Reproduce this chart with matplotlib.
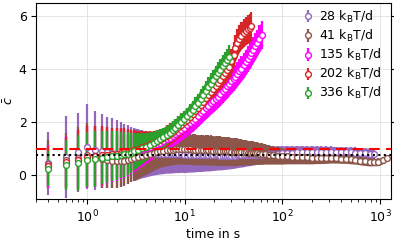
import matplotlib
matplotlib.use("Agg")
import matplotlib.pyplot as plt
import numpy as np

# shared time grid (s)
T = [0.4, 0.6, 0.8, 1.0, 1.2, 1.4, 1.6, 1.8, 2.0, 2.2, 2.4, 2.6, 2.8, 3.0, 3.3, 3.6,
     4.0, 4.4, 4.8, 5.2, 5.6, 6.0, 6.5, 7.0, 7.5, 8.0, 8.6, 9.2, 9.8, 10.5, 11.2, 12,
     12.8, 13.6, 14.5, 15.4, 16.4, 17.4, 18.4, 19.5, 20.6, 21.8, 23, 24.4, 25.8, 27.2, 28.6,
     30, 31.5, 33, 34.6, 36.2, 38, 40, 42, 44, 46, 48,
     50, 52.5, 55, 58, 61,
     66, 72, 80, 90, 100, 112, 125, 140, 160, 180, 200, 225, 250, 280, 315, 355, 400,
     450, 500, 560, 630, 700, 780, 870, 960, 1060, 1170]

labels = ["28 k$_\\mathrm{B}$T/d", "41 k$_\\mathrm{B}$T/d", "135 k$_\\mathrm{B}$T/d",
          "202 k$_\\mathrm{B}$T/d", "336 k$_\\mathrm{B}$T/d"]
colors = ["#9467bd", "#8c564b", "#ff00ff", "#d62728", "#2ca02c"]

c_28 = [0.45, 0.69, 0.86, 1.07, 0.94, 0.9, 0.86, 0.83, 0.8, 0.79,
        0.78, 0.78, 0.78, 0.79, 0.8, 0.8, 0.81, 0.82, 0.82, 0.82,
        0.82, 0.81, 0.81, 0.8, 0.8, 0.8, 0.79, 0.79, 0.78, 0.78,
        0.78, 0.77, 0.77, 0.77, 0.76, 0.76, 0.76, 0.75, 0.75, 0.75,
        0.75, 0.75, 0.74, 0.74, 0.74, 0.74, 0.74,
        0.74, 0.74, 0.74, 0.75, 0.75, 0.75, 0.75, 0.76, 0.76, 0.76, 0.77,
        0.77, 0.77, 0.78, 0.78, 0.78,
        0.79, 0.8, 0.81, 0.82, 0.83, 0.84, 0.85, 0.86, 0.87, 0.87,
        0.88, 0.88, 0.88, 0.88, 0.88, 0.88, 0.87, 0.87, 0.86, 0.85,
        0.84, 0.83, 0.82, 0.8]
e_28 = [1.2, 1.53, 1.5, 1.6, 1.48, 1.4, 1.35, 1.33, 1.3, 1.22,
        1.15, 1.1, 1.05, 1.0, 0.95, 0.9, 0.87, 0.84, 0.81, 0.79,
        0.77, 0.75, 0.73, 0.72, 0.71, 0.7, 0.69, 0.68, 0.68, 0.67,
        0.66, 0.65, 0.64, 0.63, 0.62, 0.61, 0.6, 0.59, 0.58, 0.57,
        0.56, 0.55, 0.54, 0.53, 0.52, 0.51, 0.5,
        0.49, 0.48, 0.47, 0.46, 0.45, 0.44, 0.43, 0.42, 0.41, 0.4, 0.39,
        0.38, 0.37, 0.36, 0.35, 0.34,
        0.33, 0.32, 0.3, 0.29, 0.28, 0.27, 0.26, 0.25, 0.24, 0.23,
        0.23, 0.22, 0.22, 0.21, 0.21, 0.2, 0.2, 0.2, 0.2, 0.2,
        0.2, 0.2, 0.2, 0.2]

c_41 = [0.42, 0.56, 0.66, 0.76, 0.72, 0.63, 0.58, 0.55, 0.53, 0.53,
        0.55, 0.58, 0.61, 0.64, 0.68, 0.72, 0.76, 0.8, 0.84, 0.87,
        0.9, 0.92, 0.94, 0.96, 0.97, 0.98, 0.99, 0.99, 0.99, 0.98,
        0.98, 0.97, 0.97, 0.96, 0.96, 0.95, 0.95, 0.94, 0.94, 0.93,
        0.93, 0.92, 0.92, 0.91, 0.91, 0.9, 0.9,
        0.89, 0.89, 0.88, 0.88, 0.87, 0.87, 0.86, 0.86, 0.85, 0.85, 0.84,
        0.84, 0.83, 0.83, 0.82, 0.81,
        0.8, 0.78, 0.76, 0.74, 0.72, 0.71, 0.7, 0.69, 0.68, 0.67,
        0.66, 0.66, 0.65, 0.65, 0.65, 0.64, 0.63, 0.62, 0.6, 0.58,
        0.55, 0.52, 0.5, 0.5, 0.5, 0.56, 0.65]
e_41 = [0.9, 1.05, 1.15, 1.2, 1.15, 1.1, 1.08, 1.05, 1.0, 0.97,
        0.95, 0.92, 0.88, 0.84, 0.8, 0.76, 0.72, 0.68, 0.65, 0.62,
        0.6, 0.59, 0.58, 0.58, 0.57, 0.57, 0.57, 0.57, 0.57, 0.57,
        0.57, 0.57, 0.57, 0.57, 0.57, 0.56, 0.56, 0.56, 0.56, 0.55,
        0.55, 0.55, 0.55, 0.54, 0.54, 0.54, 0.53,
        0.53, 0.52, 0.52, 0.51, 0.5, 0.49, 0.48, 0.47, 0.46, 0.45, 0.45,
        0.44, 0.43, 0.42, 0.41, 0.4,
        0.38, 0.36, 0.34, 0.32, 0.3, 0.28, 0.27, 0.26, 0.25, 0.24,
        0.23, 0.22, 0.21, 0.2, 0.19, 0.18, 0.18, 0.17, 0.17, 0.16,
        0.16, 0.15, 0.15, 0.14, 0.14, 0.13, 0.12]

c_135 = [0.33, 0.48, 0.58, 0.68, 0.7, 0.73, 0.75, 0.77, 0.79, 0.81,
         0.83, 0.85, 0.87, 0.9, 0.94, 0.98, 1.03, 1.08, 1.13, 1.18,
         1.23, 1.28, 1.35, 1.42, 1.49, 1.56, 1.64, 1.72, 1.8, 1.88,
         1.96, 2.05, 2.14, 2.23, 2.33, 2.43, 2.53, 2.62, 2.71, 2.8,
         2.88, 2.97, 3.06, 3.16, 3.26, 3.35, 3.45,
         3.54, 3.63, 3.72, 3.82, 3.92, 4.02, 4.14, 4.26, 4.38, 4.5, 4.61,
         4.72, 4.86, 4.99, 5.15, 5.3]
e_135 = [0.8, 1.0, 1.12, 1.18, 1.15, 1.12, 1.08, 1.03, 1.0, 0.96,
         0.92, 0.87, 0.82, 0.77, 0.7, 0.64, 0.58, 0.52, 0.48, 0.45,
         0.43, 0.42, 0.41, 0.4, 0.4, 0.4, 0.4, 0.4, 0.4, 0.4,
         0.4, 0.4, 0.4, 0.4, 0.4, 0.4, 0.41, 0.41, 0.41, 0.42,
         0.42, 0.42, 0.43, 0.43, 0.43, 0.44, 0.44,
         0.44, 0.45, 0.45, 0.45, 0.46, 0.46, 0.47, 0.47, 0.48, 0.48, 0.49,
         0.49, 0.5, 0.5, 0.51, 0.52]

c_202 = [0.35, 0.5, 0.59, 0.69, 0.72, 0.75, 0.78, 0.8, 0.82, 0.84,
         0.87, 0.89, 0.92, 0.95, 1.0, 1.05, 1.1, 1.16, 1.22, 1.28,
         1.34, 1.4, 1.48, 1.56, 1.64, 1.72, 1.82, 1.91, 2.0, 2.1,
         2.2, 2.32, 2.43, 2.54, 2.66, 2.78, 2.9, 3.02, 3.13, 3.25,
         3.37, 3.49, 3.6, 3.73, 3.86, 3.98, 4.1,
         4.3, 4.55, 4.8, 5.0, 5.15, 5.27, 5.36, 5.44, 5.5, 5.56, 5.62]
e_202 = [0.75, 0.95, 1.1, 1.15, 1.12, 1.1, 1.05, 1.0, 0.97, 0.93,
         0.9, 0.85, 0.8, 0.75, 0.68, 0.62, 0.56, 0.5, 0.46, 0.43,
         0.41, 0.4, 0.4, 0.4, 0.4, 0.4, 0.4, 0.4, 0.4, 0.4,
         0.4, 0.4, 0.4, 0.4, 0.4, 0.41, 0.41, 0.42, 0.42, 0.42,
         0.43, 0.43, 0.44, 0.44, 0.45, 0.45, 0.46,
         0.47, 0.48, 0.49, 0.5, 0.5, 0.51, 0.52, 0.52, 0.53, 0.54, 0.55]

c_336 = [0.25, 0.38, 0.46, 0.59, 0.62, 0.66, 0.69, 0.72, 0.74, 0.76,
         0.79, 0.82, 0.85, 0.9, 0.96, 1.02, 1.08, 1.15, 1.22, 1.29,
         1.36, 1.43, 1.52, 1.61, 1.7, 1.8, 1.91, 2.01, 2.11, 2.22,
         2.33, 2.47, 2.6, 2.73, 2.88, 3.02, 3.18, 3.32, 3.46, 3.6,
         3.73, 3.86, 3.98, 4.11, 4.23, 4.34, 4.45]
e_336 = [0.65, 0.95, 1.05, 1.05, 1.05, 1.0, 0.98, 0.95, 0.92, 0.88,
         0.85, 0.8, 0.75, 0.7, 0.64, 0.58, 0.52, 0.47, 0.43, 0.4,
         0.38, 0.36, 0.35, 0.34, 0.33, 0.33, 0.33, 0.33, 0.33, 0.33,
         0.34, 0.34, 0.35, 0.35, 0.36, 0.36, 0.37, 0.37, 0.38, 0.38,
         0.39, 0.4, 0.41, 0.42, 0.43, 0.44, 0.45]

series = [(c_28, e_28), (c_41, e_41), (c_135, e_135), (c_202, e_202), (c_336, e_336)]
ref_level = 1.0
mean_level = 0.78

fig = plt.figure(figsize=(3.94, 2.44), dpi=100)
ax = fig.add_axes([0.092, 0.184, 0.9, 0.804])

for (c, e), col, lab in zip(series, colors, labels):
    t = np.array(T[:len(c)])
    c = np.array(c)
    e = np.array(e)
    # bars merge into a band once the samples get dense on the log axis
    dense = t >= 3.0
    ax.fill_between(t[dense], (c - e)[dense], (c + e)[dense], color=col, lw=0, zorder=2)
    ax.errorbar(t, c, yerr=e, fmt="o", color=col, ecolor=col, elinewidth=1.6,
                capsize=0, ms=4.2, mfc="white", mew=1.0, label=lab)

ax.axhline(ref_level, color="red", ls=(0, (5, 3)), lw=1.5, zorder=3)
ax.axhline(mean_level, color="black", ls=":", lw=1.5, zorder=3)

ax.set_xscale("log")
ax.set_xlim(0.3, 1290)
ax.set_ylim(-0.9, 6.5)
ax.set_yticks([0, 2, 4, 6])
ax.tick_params(labelsize=9)
ax.tick_params(axis="y", right=True)
ax.grid(True, which="major", color="#e0e0e0", lw=0.6, zorder=0)
ax.set_axisbelow(True)
ax.set_xlabel("time in s", fontsize=9, labelpad=2)
ax.set_ylabel(r"$\bar{c}$", fontsize=9, labelpad=2)

ax.legend(loc="upper right", fontsize=9, frameon=False, handlelength=0.8,
          handletextpad=0.5, labelspacing=0.25, borderaxespad=0.2,
          bbox_to_anchor=(0.995, 1.01))

fig.savefig("out.png", dpi=100)
